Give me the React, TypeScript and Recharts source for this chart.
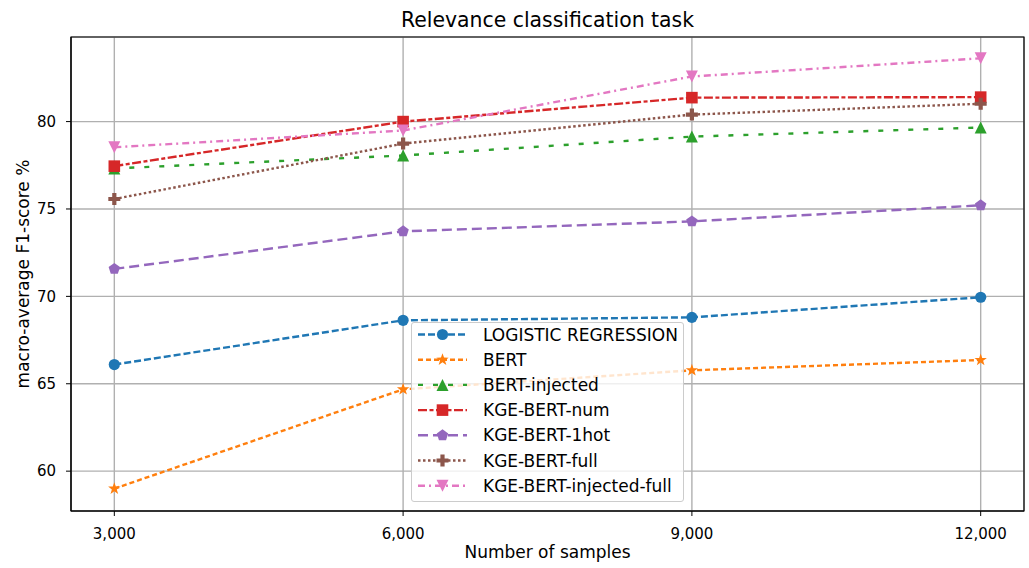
import React from 'react';
import {
  LineChart,
  Line,
  XAxis,
  YAxis,
  CartesianGrid,
  ReferenceArea,
} from 'recharts';

// number of training samples on the x axis
const samples = [3000, 6000, 9000, 12000];

// macro-average F1 (%) per model
const logisticRegression = [66.1, 68.63, 68.8, 69.95];
const bert = [59.0, 64.68, 65.77, 66.36];
const bertInjected = [77.32, 78.06, 79.14, 79.66];
const kgeBertNum = [77.45, 80.0, 81.37, 81.4];
const kgeBert1hot = [71.57, 73.72, 74.29, 75.21];
const kgeBertFull = [75.57, 78.74, 80.4, 81.02];
const kgeBertInjectedFull = [78.53, 79.49, 82.58, 83.62];

const xTicks = [3000, 6000, 9000, 12000];
const yTicks = [60, 65, 70, 75, 80];

const X_DOMAIN = [2550, 12450];
const Y_DOMAIN = [57.72, 84.84];

const FONT = '"DejaVu Sans", sans-serif';

type MarkerKind = 'circle' | 'star' | 'triUp' | 'square' | 'pentagon' | 'plus' | 'triDown';

const series = [
  { key: 'lr', name: 'LOGISTIC REGRESSION', values: logisticRegression, color: '#1f77b4', dash: '7 3', marker: 'circle' as MarkerKind },
  { key: 'bert', name: 'BERT', values: bert, color: '#ff7f0e', dash: '5 3', marker: 'star' as MarkerKind },
  { key: 'bertInj', name: 'BERT-injected', values: bertInjected, color: '#2ca02c', dash: '5 10', marker: 'triUp' as MarkerKind },
  { key: 'num', name: 'KGE-BERT-num', values: kgeBertNum, color: '#d62728', dash: '9 2.5 4 2.5', marker: 'square' as MarkerKind },
  { key: 'hot', name: 'KGE-BERT-1hot', values: kgeBert1hot, color: '#9467bd', dash: '10 5', marker: 'pentagon' as MarkerKind },
  { key: 'full', name: 'KGE-BERT-full', values: kgeBertFull, color: '#8c564b', dash: '2.5 2.5', marker: 'plus' as MarkerKind },
  { key: 'injFull', name: 'KGE-BERT-injected-full', values: kgeBertInjectedFull, color: '#e377c2', dash: '7 4 2 4', marker: 'triDown' as MarkerKind },
];

const data = samples.map((s, i) => {
  const row: Record<string, number> = { samples: s };
  series.forEach((sr) => {
    row[sr.key] = sr.values[i];
  });
  return row;
});

function polygon(cx: number, cy: number, pts: number[][]) {
  return pts.map(([x, y]) => `${cx + x},${cy + y}`).join(' ');
}

function Marker({ kind, cx, cy, color }: { kind: MarkerKind; cx: number; cy: number; color: string }) {
  if (kind === 'circle') return <circle cx={cx} cy={cy} r={5.6} fill={color} />;
  if (kind === 'square') return <rect x={cx - 5.8} y={cy - 5.8} width={11.6} height={11.6} fill={color} />;
  if (kind === 'triUp') return <polygon points={polygon(cx, cy, [[0, -6], [-6, 6], [6, 6]])} fill={color} />;
  if (kind === 'triDown') return <polygon points={polygon(cx, cy, [[0, 6], [-6, -6], [6, -6]])} fill={color} />;
  if (kind === 'star' || kind === 'pentagon') {
    const pts: number[][] = [];
    const n = kind === 'star' ? 10 : 5;
    for (let i = 0; i < n; i++) {
      const r = kind === 'star' ? (i % 2 === 0 ? 6.5 : 2.6) : 6;
      const a = -Math.PI / 2 + (i * 2 * Math.PI) / n;
      pts.push([r * Math.cos(a), r * Math.sin(a)]);
    }
    return <polygon points={polygon(cx, cy, pts)} fill={color} />;
  }
  // filled plus
  const a = 6;
  const b = 2.1;
  return (
    <polygon
      points={polygon(cx, cy, [
        [-b, -a], [b, -a], [b, -b], [a, -b], [a, b], [b, b],
        [b, a], [-b, a], [-b, b], [-a, b], [-a, -b], [-b, -b],
      ])}
      fill={color}
    />
  );
}

function ChartLegend() {
  const rowH = 25.2;
  return (
    <div
      style={{
        position: 'absolute',
        left: 411,
        top: 322,
        width: 273,
        height: 180,
        background: 'rgba(255,255,255,0.8)',
        border: '1px solid #cccccc',
        borderRadius: 3,
        boxSizing: 'border-box',
      }}
    >
      <svg width={273} height={180} style={{ position: 'absolute', left: -1, top: -1 }}>
        {series.map((s, i) => {
          const y = 12.5 + i * rowH;
          return (
            <g key={s.key}>
              <line x1={7} x2={56} y1={y} y2={y} stroke={s.color} strokeWidth={2.4} strokeDasharray={s.dash} />
              <Marker kind={s.marker} cx={31.5} cy={y} color={s.color} />
              <text x={72} y={y + 6} fontSize={17} fontFamily={FONT} fill="#000">
                {s.name}
              </text>
            </g>
          );
        })}
      </svg>
    </div>
  );
}

export default function App() {
  return (
    <div style={{ position: 'absolute', left: 0, top: 0, width: 1029, height: 568, background: '#fff' }}>
      <div
        style={{
          position: 'absolute',
          left: 71,
          width: 953,
          top: 8,
          textAlign: 'center',
          fontFamily: FONT,
          fontSize: 20.4,
          lineHeight: '24px',
          color: '#000',
        }}
      >
        Relevance classification task
      </div>
      <LineChart width={1029} height={568} data={data} margin={{ top: 37, right: 5, bottom: 0, left: 0 }}>
        <CartesianGrid stroke="#b0b0b0" strokeWidth={1.4} />
        <XAxis
          dataKey="samples"
          type="number"
          domain={X_DOMAIN}
          ticks={xTicks}
          allowDataOverflow
          height={57}
          tickSize={5}
          tickMargin={12}
          tickFormatter={(v: number) => v.toLocaleString('en-US')}
          tick={{ fontSize: 15, fontFamily: FONT, fill: '#000' }}
          stroke="#000"
          tickLine={{ stroke: '#000' }}
          axisLine={{ stroke: '#000' }}
          label={{
            content: (props: any) => {
              const vb = props.viewBox || {};
              return (
                <text x={vb.x + vb.width / 2} y={558} textAnchor="middle" fontSize={17} fontFamily={FONT} fill="#000">
                  Number of samples
                </text>
              );
            },
          }}
        />
        <YAxis
          type="number"
          domain={Y_DOMAIN}
          ticks={yTicks}
          allowDataOverflow
          width={71}
          tickSize={5}
          tickMargin={10}
          tick={{ fontSize: 15, fontFamily: FONT, fill: '#000' }}
          stroke="#000"
          tickLine={{ stroke: '#000' }}
          axisLine={{ stroke: '#000' }}
          label={{
            content: (props: any) => {
              const vb = props.viewBox || {};
              return (
                <text
                  transform={`translate(29, ${vb.y + vb.height / 2}) rotate(-90)`}
                  textAnchor="middle"
                  fontSize={17}
                  fontFamily={FONT}
                  fill="#000"
                >
                  macro-average F1-score %
                </text>
              );
            },
          }}
        />
        <ReferenceArea
          x1={X_DOMAIN[0]}
          x2={X_DOMAIN[1]}
          y1={Y_DOMAIN[0]}
          y2={Y_DOMAIN[1]}
          fill="none"
          stroke="#000"
          strokeWidth={1.2}
          ifOverflow="visible"
        />
        {series.map((s) => (
          <Line
            key={s.key}
            dataKey={s.key}
            name={s.name}
            stroke={s.color}
            strokeWidth={2.4}
            strokeDasharray={s.dash}
            isAnimationActive={false}
            dot={(p: any) => <Marker key={`${s.key}-${p.index}`} kind={s.marker} cx={p.cx} cy={p.cy} color={s.color} />}
            activeDot={false}
          />
        ))}
      </LineChart>
      <ChartLegend />
    </div>
  );
}
